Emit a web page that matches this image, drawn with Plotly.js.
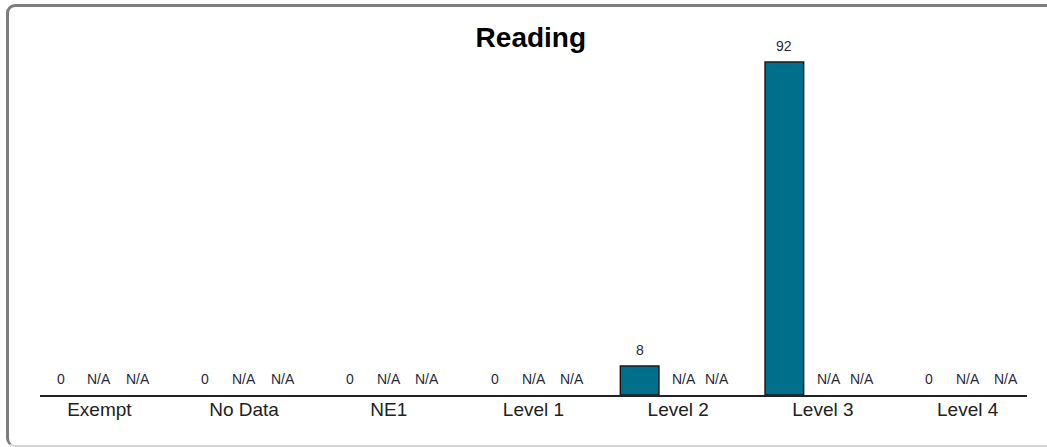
<!DOCTYPE html>
<html>
<head>
<meta charset="utf-8">
<script src="https://cdn.plot.ly/plotly-3.0.1.min.js"></script>
<style>
  html, body { margin: 0; padding: 0; background: #ffffff; overflow: hidden; }
  #frame {
    position: absolute; left: 6px; top: 4px; width: 1060px; height: 443px;
    box-sizing: border-box;
    border: 3px solid #7d7d7d; border-bottom: 2px solid #d4d4d4;
    border-radius: 9px;
  }
  #chart { position: absolute; left: 0; top: 0; width: 1047px; height: 447px; }
</style>
</head>
<body>
<div id="frame"></div>
<div id="chart"></div>
<script>
// Data
const categories = ["Exempt", "No Data", "NE1", "Level 1", "Level 2", "Level 3", "Level 4"];
const series1Values = [0, 0, 0, 0, 8, 92, 0];
const series2Values = [null, null, null, null, null, null, null];
const series3Values = [null, null, null, null, null, null, null];
const seriesNames = ["Series 1", "Series 2", "Series 3"];
const naLabel = "N/A";

const allSeries = [series1Values, series2Values, series3Values];
const barColors = ["#006F8C", "#7A9A01", "#F2A900"];

const traces = allSeries.map((vals, s) => ({
  type: "bar",
  name: seriesNames[s],
  x: categories,
  y: vals,
  marker: {
    color: barColors[s],
    line: { color: "#1a1a1a", width: vals.map(v => (v ? 1.5 : 0)) }
  },
  hoverinfo: "x+y",
  showlegend: false
}));

// Value labels (annotations built from the data arrays)
const slotPx = 38.6;
const annotations = [];
allSeries.forEach((vals, s) => {
  vals.forEach((v, i) => {
    let shift = (s - 1) * slotPx;
    if (s === 1 && series1Values[i] > 0) shift += 6;
    annotations.push({
      x: categories[i], y: v === null ? 0 : v,
      xref: "x", yref: "y",
      text: v === null ? naLabel : String(v),
      showarrow: false,
      xshift: shift, yshift: 16,
      xanchor: "center", yanchor: "middle",
      font: { family: "Liberation Sans, Arial, sans-serif", size: 14, color: "#2a2a3a" }
    });
  });
});

const layout = {
  width: 1047, height: 447,
  margin: { l: 40, r: 20, t: 33, b: 52 },
  paper_bgcolor: "rgba(0,0,0,0)",
  plot_bgcolor: "rgba(0,0,0,0)",
  barmode: "group",
  bargap: 0.2,
  bargroupgap: 0,
  title: {
    text: "<b>Reading</b>",
    font: { family: "Liberation Sans, Arial, sans-serif", size: 28, color: "#000000" },
    x: 0.507, xref: "container", xanchor: "center",
    y: 1 - 37 / 447, yref: "container", yanchor: "middle"
  },
  xaxis: {
    type: "category",
    range: [-0.41, 6.41],
    showline: true, linecolor: "#222222", linewidth: 1.5,
    showgrid: false, zeroline: false, ticks: "",
    ticklabelstandoff: -3,
    tickfont: { family: "Liberation Sans, Arial, sans-serif", size: 19, color: "#222222" },
    fixedrange: true
  },
  yaxis: {
    range: [0, 100],
    visible: false, showgrid: false, zeroline: false,
    fixedrange: true
  },
  annotations: annotations,
  showlegend: false
};

Plotly.newPlot("chart", traces, layout, { displayModeBar: false, staticPlot: true });
</script>
</body>
</html>
